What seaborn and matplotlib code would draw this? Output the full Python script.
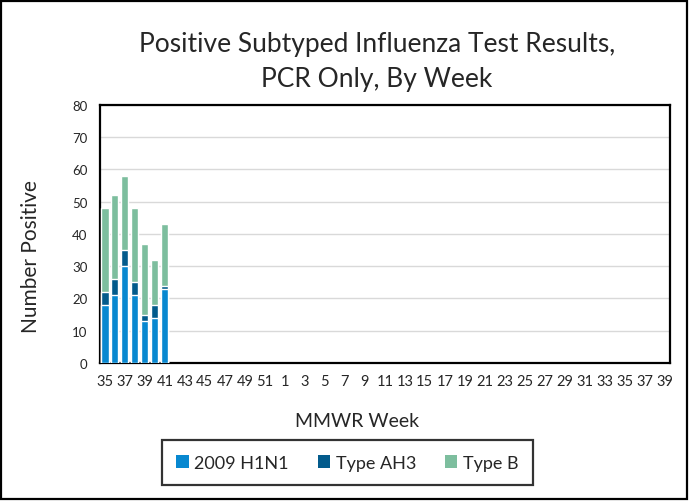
import numpy as np
import pandas as pd
import matplotlib
matplotlib.use("Agg")
import matplotlib.pyplot as plt
from matplotlib.patches import Patch, Rectangle
import seaborn as sns

# weeks 35..52 of one season, then 1..39 of the next
weeks = list(range(35, 53)) + list(range(1, 40))
h1n1 = [18, 21, 30, 21, 13, 14, 23]
ah3 = [4, 5, 5, 4, 2, 4, 1]
type_b = [26, 26, 23, 23, 22, 14, 19]

SERIES = ["2009 H1N1", "Type AH3", "Type B"]
COLORS = ["#0888D0", "#035B8C", "#7DBE9E"]

n = len(weeks)
pad = [np.nan] * (n - len(h1n1))
df = pd.DataFrame({
    "pos": np.arange(n),
    "week": weeks,
    "h1n1": h1n1 + pad,
    "ah3": ah3 + pad,
    "b": type_b + pad,
})
df["lvl1"] = df["h1n1"]
df["lvl2"] = df["h1n1"] + df["ah3"]
df["lvl3"] = df["lvl2"] + df["b"]

sns.set_theme(style="white")
plt.rcParams["font.family"] = ["Lato", "DejaVu Sans"]

fig = plt.figure(figsize=(6.89, 5.02), dpi=100)
ax = fig.add_axes([0.145, 0.275, 0.827, 0.514])

# stacked bars: draw cumulative totals from the top down
for col, color in zip(["lvl3", "lvl2", "lvl1"], COLORS[::-1]):
    sns.barplot(data=df, x="pos", y=col, color=color, width=0.72,
                saturation=1, ax=ax, zorder=3)

ax.set_ylim(0, 80)
ax.set_yticks(range(0, 81, 10))
ax.set_xlim(-0.5, n - 0.5)
ax.set_xticks(range(0, n, 2))
ax.set_xticklabels([str(w) for w in weeks[::2]], fontsize=10.5)
ax.tick_params(axis="y", labelsize=9.5, length=0, pad=9)
ax.tick_params(axis="x", length=0, pad=8)
ax.yaxis.grid(True, color="#d9d9d9", lw=1, zorder=0)
ax.set_axisbelow(True)
for s in ax.spines.values():
    s.set_color("black")
    s.set_linewidth(1.6)

ax.set_xlabel("MMWR Week", fontsize=14)
ax.set_ylabel("Number Positive", fontsize=15)
ax.xaxis.set_label_coords(0.451, -0.19)
ax.yaxis.set_label_coords(-0.104, 0.415)

fig.text(0.547, 0.877, "Positive Subtyped Influenza Test Results,\nPCR Only, By Week",
         ha="center", va="center", fontsize=19, linespacing=1.5)

handles = [Patch(facecolor=c, edgecolor="none", label=l) for c, l in zip(COLORS, SERIES)]
leg = fig.legend(handles=handles, loc="center", bbox_to_anchor=(0.504, 0.076),
                 ncol=3, frameon=True, fontsize=13, handlelength=0.7,
                 handleheight=0.7, handletextpad=0.3, columnspacing=1.6,
                 borderpad=0.8, fancybox=False)
leg.get_frame().set_edgecolor("black")
leg.get_frame().set_linewidth(1.6)

fig.patches.append(Rectangle((0.002, 0.003), 0.995, 0.994, transform=fig.transFigure,
                             fill=False, edgecolor="black", lw=1.6))

fig.savefig("out.png", dpi=100)
